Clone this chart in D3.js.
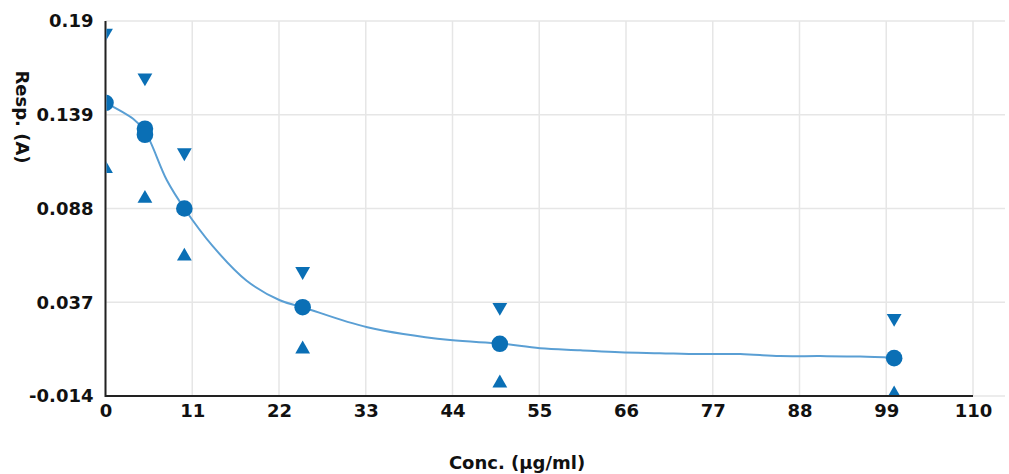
<!DOCTYPE html>
<html lang="en">
<head>
    <meta charset="UTF-8">
    <title>Resp vs Conc</title>
    <style>
        body { margin: 0; background: #ffffff; }
        svg { display: block; }
        .tick text { font-family: 'DejaVu Sans', sans-serif; font-weight: bold; font-size: 18px; fill: #111; }
        .axis-title { font-family: 'DejaVu Sans', sans-serif; font-weight: bold; font-size: 18px; fill: #111; }
    </style>
</head>
<body>
    <div id="chart"></div>

    <script src="https://d3js.org/d3.v7.min.js"></script>
    <script>
        // Data
        const concPts = [0, 5, 5, 10, 25, 50, 100];
        const respPts = [0.1455, 0.1314, 0.1281, 0.0880, 0.0343, 0.0144, 0.0066];

        const concRep = [0, 5, 10, 25, 50, 100];
        const respHigh = [0.1835, 0.1591, 0.1184, 0.0538, 0.0343, 0.0283];
        const respLow = [0.1097, 0.0934, 0.0620, 0.0115, -0.0070, -0.0130];

        // fitted curve, sampled along the drawn line
        const fitConc = [0, 3.5, 5, 7.8, 10, 13.6, 17.9, 22.1, 25, 33.2, 43.7, 50, 55.1, 60.2, 65.2, 70.3, 75.4, 80.5, 85.5, 90.6, 95.7, 100];
        const fitResp = [0.1455, 0.1368, 0.1300, 0.1032, 0.0880, 0.0675, 0.0487, 0.0381, 0.0343, 0.0234, 0.0164, 0.0146, 0.0120, 0.0109, 0.0098, 0.0093, 0.0088, 0.0088, 0.0077, 0.0077, 0.0075, 0.0068];

        const xTicks = [0, 11, 22, 33, 44, 55, 66, 77, 88, 99, 110];
        const yTicks = [-0.014, 0.037, 0.088, 0.139, 0.19];

        const width = 1009, height = 474;
        const plotLeft = 105.5, plotRight = 973, gridRight = 1005, plotTop = 21, plotBottom = 396;
        const blue = '#0a6fb5';

        const svg = d3.select('#chart').append('svg')
            .attr('width', width)
            .attr('height', height);

        const x = d3.scaleLinear().domain([0, 110]).range([plotLeft, plotRight]);
        const y = d3.scaleLinear().domain([-0.014, 0.19]).range([plotBottom, plotTop]);

        // grid
        svg.append('g')
            .selectAll('line')
            .data(yTicks)
            .enter().append('line')
            .attr('x1', plotLeft).attr('x2', gridRight)
            .attr('y1', d => y(d)).attr('y2', d => y(d))
            .attr('stroke', '#e6e6e6').attr('stroke-width', 1.5);

        svg.append('g')
            .selectAll('line')
            .data(xTicks)
            .enter().append('line')
            .attr('x1', d => x(d)).attr('x2', d => x(d))
            .attr('y1', plotTop).attr('y2', plotBottom)
            .attr('stroke', '#e6e6e6').attr('stroke-width', 1.5);

        // axes
        const xAxis = svg.append('g')
            .attr('transform', `translate(0,${plotBottom})`)
            .call(d3.axisBottom(x).tickValues(xTicks).tickSize(0).tickPadding(8).tickFormat(d3.format('d')));
        xAxis.select('.domain').remove();

        const yAxis = svg.append('g')
            .attr('transform', `translate(${plotLeft},0)`)
            .call(d3.axisLeft(y).tickValues(yTicks).tickSize(0).tickPadding(12).tickFormat(d => String(d)));
        yAxis.select('.domain').remove();

        svg.append('line')
            .attr('x1', plotLeft).attr('x2', plotLeft).attr('y1', plotTop).attr('y2', plotBottom + 1)
            .attr('stroke', '#222').attr('stroke-width', 2);
        svg.append('line')
            .attr('x1', plotLeft).attr('x2', plotRight).attr('y1', plotBottom).attr('y2', plotBottom)
            .attr('stroke', '#222').attr('stroke-width', 2);

        // clipped plot area
        svg.append('clipPath').attr('id', 'plot')
            .append('rect')
            .attr('x', plotLeft + 1).attr('y', plotTop)
            .attr('width', gridRight - plotLeft).attr('height', plotBottom - plotTop - 1);

        const plot = svg.append('g').attr('clip-path', 'url(#plot)');

        const line = d3.line()
            .x(d => x(d[0]))
            .y(d => y(d[1]))
            .curve(d3.curveCatmullRom.alpha(0.5));

        plot.append('path')
            .datum(d3.zip(fitConc, fitResp))
            .attr('d', line)
            .attr('fill', 'none')
            .attr('stroke', '#5a9fd4')
            .attr('stroke-width', 2);

        const tri = d3.symbol().type(d3.symbolTriangle).size(95);

        plot.selectAll('path.hi')
            .data(d3.zip(concRep, respHigh))
            .enter().append('path')
            .attr('class', 'hi')
            .attr('d', tri)
            .attr('transform', d => `translate(${x(d[0])},${y(d[1])}) rotate(180)`)
            .attr('fill', blue);

        plot.selectAll('path.lo')
            .data(d3.zip(concRep, respLow))
            .enter().append('path')
            .attr('class', 'lo')
            .attr('d', tri)
            .attr('transform', d => `translate(${x(d[0])},${y(d[1])})`)
            .attr('fill', blue);

        plot.selectAll('circle')
            .data(d3.zip(concPts, respPts))
            .enter().append('circle')
            .attr('cx', d => x(d[0]))
            .attr('cy', d => y(d[1]))
            .attr('r', 8.3)
            .attr('fill', blue);

        // titles
        svg.append('text')
            .attr('class', 'axis-title')
            .attr('x', 517).attr('y', 469)
            .attr('text-anchor', 'middle')
            .text('Conc. (µg/ml)');

        svg.append('text')
            .attr('class', 'axis-title')
            .attr('transform', 'translate(16,117) rotate(90)')
            .attr('text-anchor', 'middle')
            .text('Resp. (A)');
    </script>
</body>
</html>
